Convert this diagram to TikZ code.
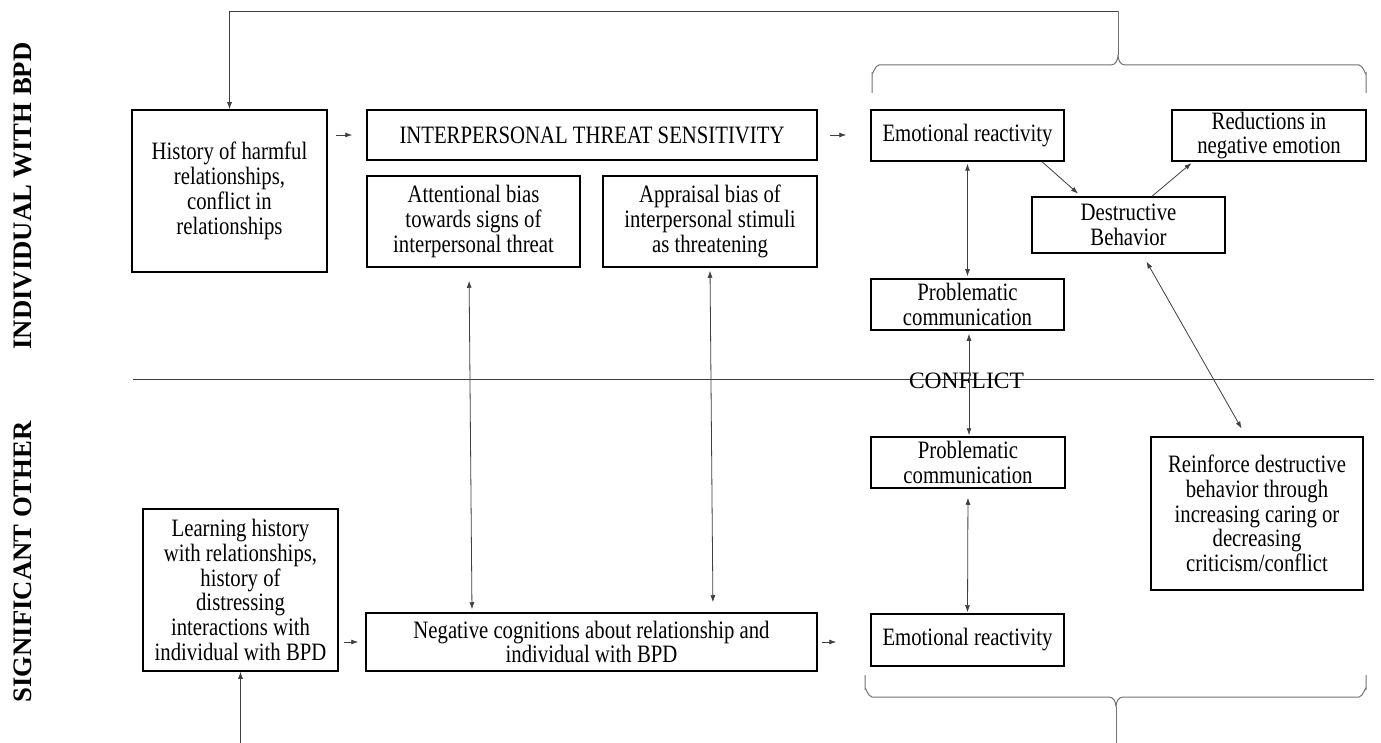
\documentclass[tikz,border=0pt]{standalone}
\usepackage{fontspec}
\setmainfont{Liberation Serif}
\newfontfamily\boxfam{Liberation Serif}[FakeStretch=0.83]
\usetikzlibrary{arrows.meta}
\newcommand\boxfont{\boxfam\fontsize{25}{24.8}\selectfont}
\newcommand\conffont{\fontsize{23.5}{26}\selectfont}
\newcommand\sidefont{\bfseries\fontsize{26.7}{30}\selectfont}
\begin{document}
\begin{tikzpicture}[x=1pt,y=-1pt,
  box/.style={draw, line width=1.5pt, inner sep=0pt, align=center, font=\boxfont},
  conn/.style={draw=black!75, line width=0.8pt},
  tip/.style={-{Latex[length=7pt,width=5pt]}},
  bitip/.style={{Latex[length=7pt,width=5pt]}-{Latex[length=7pt,width=5pt]}},
  brace/.style={draw=black!55, line width=1pt},
  side/.style={rotate=90, font=\sidefont}]
\useasboundingbox (0,0) rectangle (1381,743);
\fill[white] (0,0) rectangle (1381,743);

% side labels
\node[side] (lblA) at (23,196) {INDIVIDUAL WITH BPD};
\node[side] (lblB) at (23,562) {SIGNIFICANT OTHER};

% conflict line
\coordinate (cl) at (133,379);
\coordinate (cr) at (1374,379);
\draw[conn] (cl) -- (cr);
\node[font=\conffont, inner sep=0pt] (conf) at (966.5,381) {CONFLICT};

% boxes
\node[box, minimum width=195, minimum height=162] (hist) at (229.5,191) {History of harmful\\relationships,\\conflict in\\relationships};
\node[box, minimum width=450, minimum height=50] (its) at (592,135) {INTERPERSONAL THREAT SENSITIVITY};
\node[box, minimum width=213, minimum height=91] (att) at (473.5,221.5) {Attentional bias\\towards signs of\\interpersonal threat};
\node[box, minimum width=214, minimum height=91] (app) at (710,221.5) {Appraisal bias of\\interpersonal stimuli\\as threatening};
\node[box, minimum width=193, minimum height=51] (er1) at (967.5,135.5) {Emotional reactivity};
\node[box, minimum width=194, minimum height=51] (red) at (1269,135.5) {Reductions in\\negative emotion};
\node[box, minimum width=193, minimum height=56] (des) at (1128.5,225) {Destructive\\Behavior};
\node[box, minimum width=193, minimum height=51] (pc1) at (967.5,304.5) {Problematic\\communication};
\node[box, minimum width=194, minimum height=51] (pc2) at (968,462.5) {Problematic\\communication};
\node[box, minimum width=212, minimum height=153] (rein) at (1257,513.5) {Reinforce destructive\\behavior through\\increasing caring or\\decreasing\\criticism/conflict};
\node[box, minimum width=193, minimum height=52] (er2) at (967.5,640) {Emotional reactivity};
\node[box, minimum width=195, minimum height=162] (learn) at (240.5,590) {Learning history\\with relationships,\\history of\\distressing\\interactions with\\individual with BPD};
\node[box, minimum width=451, minimum height=58] (neg) at (591.5,642) {Negative cognitions about relationship and\\individual with BPD};

% short forward arrows
\draw[conn, tip, shorten <=8pt, shorten >=14pt] (its.west -| hist.east) -- (its.west);
\draw[conn, tip, shorten <=12pt, shorten >=24pt] (its.east) -- (its.east -| er1.west);
\draw[conn, tip, shorten <=5pt, shorten >=7pt] (neg.west -| learn.east) -- (neg.west);
\draw[conn, tip, shorten <=4pt, shorten >=34pt] (neg.east) -- (neg.east -| er2.west);

% vertical two-way arrows
\draw[conn, bitip, shorten <=2pt, shorten >=2pt] (er1.south) -- (pc1.north);
\draw[conn, bitip, shorten <=3pt, shorten >=1pt] ([xshift=1.5pt]pc1.south) -- ([xshift=1pt]pc2.north);
\draw[conn, bitip, shorten <=9pt, shorten >=1pt] (pc2.south) -- (er2.north);
\draw[conn, bitip, shorten <=13pt, shorten >=3pt] ([xshift=-4.5pt]att.south) -- ([xshift=-119.5pt]neg.north);
\draw[conn, bitip, shorten <=3pt, shorten >=10pt] (app.south) -- ([xshift=121.5pt]neg.north);

% diagonal arrows
\draw[conn, tip, shorten >=4pt] ([xshift=74.5pt]er1.south) -- ([xshift=-47.5pt]des.north);
\draw[conn, tip, shorten >=2pt] ([xshift=23.5pt]des.north) -- ([xshift=-76pt]red.south);
\draw[conn, bitip, shorten <=9pt, shorten >=9pt] ([xshift=13.5pt]des.south) -- ([xshift=-11pt]rein.north);

% top brace and feedback
\coordinate (tbtip) at (1118,55);
\coordinate (ttop) at (1118,11);
\coordinate (tleft) at (229.5,11);
\draw[brace] (872,93) -- (872,73) to[out=-90,in=180] (879,65) -- (1111,65) to[out=0,in=-90] (tbtip)
  (tbtip) to[out=-90,in=180] (1125,65) -- (1359,65) to[out=0,in=-90] (1366,73) -- (1366,93);
\draw[brace] (tbtip) -- (ttop);
\draw[conn, tip] (ttop) -- (tleft) -- (hist.north);

% bottom brace and feedback
\coordinate (bbtip) at (1116,707);
\coordinate (bbot) at (1116,743);
\coordinate (lbot) at (240.5,743);
\draw[brace] (865,675) -- (865,689) to[out=90,in=180] (872,697) -- (1109,697) to[out=0,in=90] (bbtip)
  (bbtip) to[out=90,in=180] (1123,697) -- (1359,697) to[out=0,in=90] (1366,689) -- (1366,675);
\draw[brace] (bbtip) -- (bbot);
\draw[conn, tip] (lbot) -- (learn.south);
\end{tikzpicture}
\end{document}
